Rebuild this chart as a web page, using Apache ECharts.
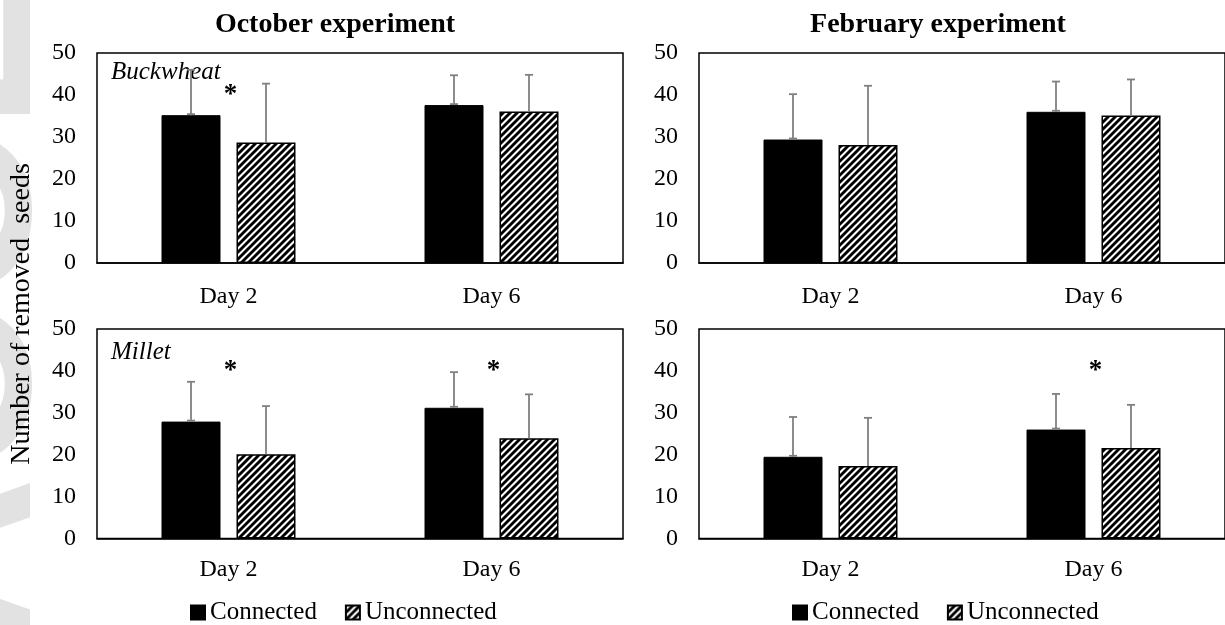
<!DOCTYPE html>
<html>
<head>
<meta charset="utf-8">
<script src="https://cdn.jsdelivr.net/npm/echarts@6/dist/echarts.min.js"></script>
<style>
html,body{margin:0;padding:0;background:#fff;}
#chart{width:1225px;height:625px;}
</style>
</head>
<body>
<div id="chart"></div>
<script>
// ---------------- data ----------------
const categories = ['Day 2', 'Day 6'];
const yTicks = [0, 10, 20, 30, 40, 50];
const seriesNames = ['Connected', 'Unconnected'];

// October, Buckwheat
const octBuckConn = [35.2, 37.6];
const octBuckConnErr = [10.8, 7.1];
const octBuckUnc = [28.7, 36.1];
const octBuckUncErr = [14.0, 8.7];
const octBuckSig = [true, false];

// February, Buckwheat
const febBuckConn = [29.4, 36.0];
const febBuckConnErr = [10.8, 7.2];
const febBuckUnc = [28.1, 35.1];
const febBuckUncErr = [14.1, 8.6];
const febBuckSig = [false, false];

// October, Millet
const octMilConn = [27.9, 31.2];
const octMilConnErr = [9.5, 8.5];
const octMilUnc = [20.1, 23.9];
const octMilUncErr = [11.5, 10.5];
const octMilSig = [true, true];

// February, Millet
const febMilConn = [19.5, 26.0];
const febMilConnErr = [9.5, 8.5];
const febMilUnc = [17.3, 21.6];
const febMilUncErr = [11.5, 10.3];
const febMilSig = [false, true];

const panelTitles = ['October experiment', 'February experiment'];
const seedLabels = ['Buckwheat', 'Millet'];
const yAxisTitle = 'Number of removed  seeds';

// ---------------- layout / style ----------------
const FONT = 'Liberation Serif';
const BAR_W = 59, BAR_GAP_PX = 16;
const ERR_COLOR = '#808080';
const STAR_AT = 40;
const panels = [
  {conn: octBuckConn, connErr: octBuckConnErr, unc: octBuckUnc, uncErr: octBuckUncErr, sig: octBuckSig,
   grid: {left: 97, top: 53, width: 526, height: 210}, labelMargin: 22},
  {conn: febBuckConn, connErr: febBuckConnErr, unc: febBuckUnc, uncErr: febBuckUncErr, sig: febBuckSig,
   grid: {left: 699, top: 53, width: 528, height: 210}, labelMargin: 22},
  {conn: octMilConn, connErr: octMilConnErr, unc: octMilUnc, uncErr: octMilUncErr, sig: octMilSig,
   grid: {left: 97, top: 329, width: 526, height: 209.5}, labelMargin: 19},
  {conn: febMilConn, connErr: febMilConnErr, unc: febMilUnc, uncErr: febMilUncErr, sig: febMilSig,
   grid: {left: 699, top: 329, width: 528, height: 209.5}, labelMargin: 19}
];

function hatchCanvas() {
  const s = 14;
  const c = document.createElement('canvas');
  c.width = s; c.height = s;
  const g = c.getContext('2d');
  g.fillStyle = '#fff';
  g.fillRect(0, 0, s, s);
  g.strokeStyle = '#000';
  g.lineWidth = 2.9;
  for (let k = -s; k <= 2 * s; k += s / 2) {
    g.beginPath();
    g.moveTo(-3, k + 3);
    g.lineTo(s + 3, k - s - 3);
    g.stroke();
  }
  return c;
}
const hatch = {image: hatchCanvas(), repeat: 'repeat'};

const chart = echarts.init(document.getElementById('chart'), null, {renderer: 'canvas', width: 1225, height: 625});

const grids = [], xAxes = [], yAxes = [], series = [];
panels.forEach((p, i) => {
  grids.push(Object.assign({show: true, borderColor: '#000', borderWidth: 1.5, backgroundColor: 'transparent', containLabel: false}, p.grid));
  xAxes.push({
    type: 'category', gridIndex: i, data: categories,
    axisLine: {show: true, lineStyle: {color: '#000', width: 1.5}},
    axisTick: {show: false},
    axisLabel: {color: '#000', fontFamily: FONT, fontSize: 24, margin: p.labelMargin}
  });
  yAxes.push({
    type: 'value', gridIndex: i, min: yTicks[0], max: yTicks[yTicks.length - 1], interval: yTicks[1] - yTicks[0],
    axisLine: {show: false}, axisTick: {show: false}, splitLine: {show: false},
    axisLabel: {color: '#000', fontFamily: FONT, fontSize: 24, margin: 21}
  });
  series.push({
    name: seriesNames[0], type: 'bar', xAxisIndex: i, yAxisIndex: i, data: p.conn,
    barWidth: BAR_W, barGap: (BAR_GAP_PX / BAR_W * 100) + '%',
    itemStyle: {color: '#000', borderColor: '#000', borderWidth: 1}
  });
  series.push({
    name: seriesNames[1], type: 'bar', xAxisIndex: i, yAxisIndex: i, data: p.unc,
    barWidth: BAR_W,
    itemStyle: {color: hatch, borderColor: '#000', borderWidth: 1.5}
  });
  const errData = [];
  p.conn.forEach((v, j) => errData.push([j, v, p.connErr[j], -1]));
  p.unc.forEach((v, j) => errData.push([j, v, p.uncErr[j], 1]));
  series.push({
    type: 'custom', xAxisIndex: i, yAxisIndex: i, z: 5, silent: true,
    data: errData,
    renderItem: function (params, api) {
      const x = api.value(0), v = api.value(1), e = api.value(2), side = api.value(3);
      const off = side * (BAR_W + BAR_GAP_PX) / 2;
      const b = api.coord([x, v]);
      const t = api.coord([x, v + e]);
      const cx = b[0] + off;
      const st = {stroke: ERR_COLOR, lineWidth: 1.8};
      const kids = [
        {type: 'line', shape: {x1: cx, y1: b[1], x2: cx, y2: t[1]}, style: st},
        {type: 'line', shape: {x1: cx - 4, y1: t[1], x2: cx + 4, y2: t[1]}, style: st}
      ];
      if (side < 0) kids.push({type: 'line', shape: {x1: cx - 4, y1: b[1] - 1, x2: cx + 4, y2: b[1] - 1}, style: st});
      return {type: 'group', children: kids};
    }
  });
  const starData = [];
  p.sig.forEach((s, j) => { if (s) starData.push([j, STAR_AT]); });
  series.push({
    type: 'custom', xAxisIndex: i, yAxisIndex: i, z: 6, silent: true,
    data: starData,
    renderItem: function (params, api) {
      const c = api.coord([api.value(0), api.value(1)]);
      return {type: 'text', x: c[0] + 2, y: c[1], style: {text: '*', fill: '#000', font: 'bold 27px ' + FONT, align: 'center', verticalAlign: 'middle'}};
    }
  });
});

const legendCommon = {
  data: seriesNames, orient: 'horizontal', top: 600, itemWidth: 14, itemHeight: 14, itemGap: 28, padding: 0,
  icon: 'rect',
  textStyle: {color: '#000', fontFamily: FONT, fontSize: 25}, selectedMode: false
};

chart.setOption({
  backgroundColor: '#fff',
  animation: false,
  grid: grids, xAxis: xAxes, yAxis: yAxes, series: series,
  legend: [Object.assign({left: 190}, legendCommon), Object.assign({left: 792}, legendCommon)],
  graphic: [
    {type: 'text', x: 84, y: 650, rotation: Math.PI / 2, z: -10, silent: true,
     style: {text: 'ACCEPTED', font: 'bold 240px Liberation Sans', fill: '#e2e2e2', align: 'left', verticalAlign: 'bottom'}},
    {type: 'text', x: 335, y: 25, style: {text: panelTitles[0], font: 'bold 28px ' + FONT, fill: '#000', align: 'center', verticalAlign: 'middle'}},
    {type: 'text', x: 938, y: 25, style: {text: panelTitles[1], font: 'bold 28px ' + FONT, fill: '#000', align: 'center', verticalAlign: 'middle'}},
    {type: 'text', x: 111, y: 72, style: {text: seedLabels[0], font: 'italic 25px ' + FONT, fill: '#000', align: 'left', verticalAlign: 'middle'}},
    {type: 'text', x: 111, y: 352, style: {text: seedLabels[1], font: 'italic 25px ' + FONT, fill: '#000', align: 'left', verticalAlign: 'middle'}},
    {type: 'text', x: 22, y: 314, rotation: Math.PI / 2, style: {text: yAxisTitle, font: '28px ' + FONT, fill: '#000', align: 'center', verticalAlign: 'middle'}}
  ]
});
</script>
</body>
</html>
